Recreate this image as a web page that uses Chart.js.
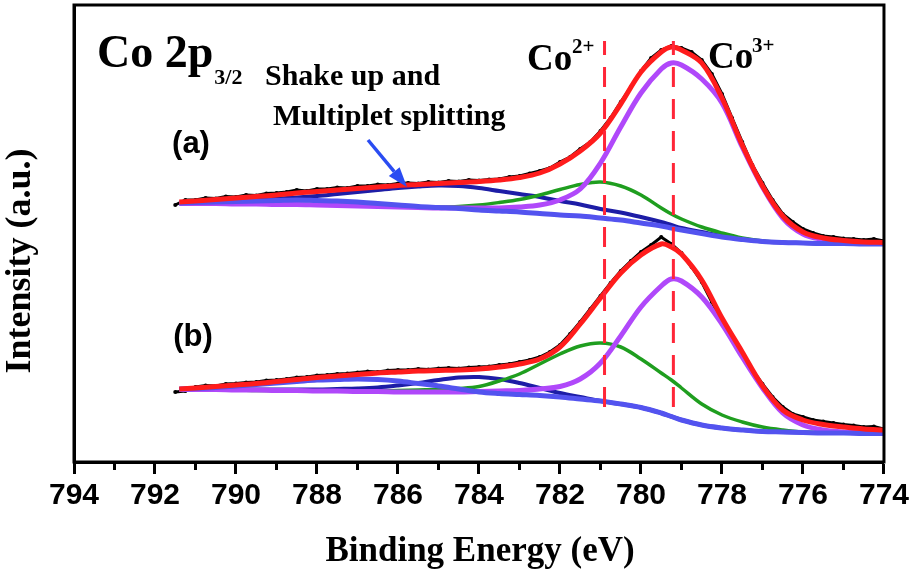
<!DOCTYPE html>
<html>
<head>
<meta charset="utf-8">
<script src="https://cdn.jsdelivr.net/npm/chart.js@4.4.1/dist/chart.umd.min.js"></script>
<style>
  html, body { margin: 0; padding: 0; background: #fff; }
  canvas { display: block; }
</style>
</head>
<body>
<canvas id="chart-area" width="913" height="577"></canvas>
<script>
// binding energy grid of the fitted curves (eV)
var energyFit = [791.4, 791, 790.5, 790, 789.5, 789, 788.5, 788, 787.5, 787, 786.5, 786,
    785.5, 785, 784.5, 784, 783.5, 783, 782.5, 782, 781.5, 781, 780.5, 780, 779.5, 779.25,
    779, 778.5, 778, 777.5, 777, 776.5, 776, 775.5, 775, 774.5, 774];

// measured spectra are sampled every 0.25 eV from 791.5 down to 774
var energyRaw = [];
for (var e = 791.5; e >= 773.99; e -= 0.25) energyRaw.push(Math.round(e * 100) / 100);

// spectrum (a)
var rawA = [257, 262, 262, 264, 263.5, 265.5, 265, 267, 266.5, 268.5,
    269, 270, 272, 271, 273, 273, 274.5, 274, 276, 276,
    277.5, 277, 278.5, 279, 278.5, 280, 279.5, 281, 280.5, 282,
    281.5, 282.5, 283, 285, 286, 288.5, 291, 294, 300, 305,
    313, 320, 331, 344, 360, 375, 391, 404, 412, 416,
    414, 410, 402, 388, 368, 344, 320, 297, 279, 262,
    248, 240, 233, 229, 226, 225, 223.5, 223, 222, 223, 221];
var envelopeA = [260, 261, 262.5, 264, 265.5, 267, 269, 270.5, 272, 273.5, 275, 276.5,
    277.5, 278.5, 279.5, 280.5, 282, 284.5, 289, 298, 311, 329, 358, 390, 410, 415,
    412, 399, 364, 317, 276, 246, 230, 224, 221.5, 220, 219.5];
var co3A = [258.5, 258.5, 258.5, 258, 258, 257.5, 257.5, 257, 256.5, 256, 255.5, 255,
    254.5, 254, 254, 254, 254, 255, 257, 262, 273, 299, 335, 369, 393, 399,
    397, 383, 359, 315, 275, 244, 228, 222.5, 220, 219, 218.5];
var co2A = [258.5, 258.5, 258.5, 258, 258, 258, 257.5, 257.5, 257, 256.5, 256, 255.5,
    255, 255, 255.5, 257, 259.5, 262.5, 267, 272.5, 277.5, 280, 276, 267, 254, 248,
    243, 235, 229, 224, 221, 219.5, 219, 218.5, 218.5, 218.5, 218.5];
var satA = [259, 260, 261, 262, 262.5, 263.5, 264.5, 266, 268, 270, 272, 274,
    275.5, 276.5, 276, 274, 271, 268, 265, 261, 257.5, 253, 249.5, 245, 240, 237,
    234, 230, 226, 223, 220.5, 219.5, 219, 218.5, 218.5, 218.5, 218.5];
var bgA = [259, 259.5, 260, 260.5, 261, 261.5, 262, 261.5, 261, 260, 258.5, 257,
    255.5, 254.5, 253.5, 252, 251, 250, 248.5, 247, 246, 244, 242, 239, 236, 234,
    232, 228.5, 225, 222.5, 220.5, 219.5, 219, 218.5, 218.5, 218, 218];

// spectrum (b)
var rawB = [70, 71, 75, 76.5, 76, 78, 78.5, 79.5, 80, 81.5,
    82, 83, 84.5, 85, 86.5, 87, 88, 88.5, 89.5, 90.5,
    90, 91.5, 92, 92, 93, 92.5, 93.5, 94, 93.5, 94.5,
    95, 95.5, 97, 98, 100, 102, 105, 110, 117, 128,
    140, 153, 166, 179, 191, 201, 210, 217, 225, 218,
    209, 195, 180, 160, 141, 124, 108, 92, 78, 65,
    55, 48, 45, 42, 40.5, 39, 37.5, 36.5, 35, 35.5, 33];
var envelopeB = [73, 74, 75.5, 77, 78.5, 80.5, 82.5, 84.5, 86, 87.5, 89, 90,
    91, 91.5, 92, 93, 95, 98, 103, 115, 138, 164, 189, 207, 218, 215,
    208, 182, 144, 110, 76, 52, 42, 37.5, 35, 33, 32];
var co3B = [72.5, 72.5, 72.5, 72, 72, 71.5, 71.5, 71, 71, 70.5, 70.5, 70,
    70, 70, 70, 70.5, 71, 71.5, 73, 75.5, 83, 99, 126, 155, 176, 183,
    181, 165, 138, 105, 74, 49, 37, 32, 30, 29, 29];
var co2B = [72.5, 72.5, 72, 72, 71.5, 71.5, 71, 71, 71, 71, 71, 71.5,
    72, 72.5, 73.5, 75.5, 81, 88, 98, 108, 116, 119, 115, 103, 89, 82,
    74, 58, 47, 40, 35, 32, 30, 29.5, 29, 29, 29];
var satB = [72.5, 72.5, 72.5, 72.5, 72.5, 72.5, 72.5, 72.5, 73, 73.5, 74.5, 76.5,
    79, 82, 84.5, 85, 83, 79, 74, 69, 65, 61, 58, 54.5, 49, 45.5,
    42, 37, 34, 32, 30.5, 30, 29.5, 29, 29, 29, 29];
var bgB = [73, 73.5, 74.5, 76, 77.5, 79, 80.5, 82, 82.5, 83, 82.5, 81,
    78.5, 76, 73, 70, 68.5, 67.5, 66.5, 65, 63, 61, 58, 54.5, 49, 45.5,
    42, 37, 34, 32, 30.5, 30, 29.5, 29, 29, 28.5, 28.5];

// peak positions marked by the dashed lines (eV) and their vertical extent
var peakCo2 = 780.9;
var peakCo3 = 779.2;
var markerSpan = [55, 421];

// x axis
var xTicksMajor = [794, 792, 790, 788, 786, 784, 782, 780, 778, 776, 774];
var xTicksMinor = [793, 791, 789, 787, 785, 783, 781, 779, 777, 775];

function pts(xs, ys) {
    return ys.map(function(v, i) { return {x: xs[i], y: v}; });
}
function curve(xs, ys, color, width, order) {
    return {
        data: pts(xs, ys),
        borderColor: color,
        borderWidth: width,
        pointRadius: 0,
        tension: 0.35,
        fill: false,
        order: order
    };
}
function raw(ys) {
    return {
        data: pts(energyRaw, ys),
        borderColor: '#000',
        backgroundColor: '#000',
        borderWidth: 3,
        pointRadius: 2,
        pointBorderWidth: 0,
        tension: 0,
        fill: false,
        order: 9
    };
}
function marker(e) {
    return {
        data: [{x: e, y: markerSpan[0]}, {x: e, y: markerSpan[1]}],
        borderColor: '#ff2638',
        borderWidth: 3,
        borderDash: [20, 12],
        pointRadius: 0,
        order: 0
    };
}

var RED = '#ff1c1c', VIOLET = '#b048fa', GREEN = '#1f9e1f', NAVY = '#1d1da6', LAVENDER = '#5353ef';

var decorations = {
    id: 'decorations',
    afterDraw: function(chart) {
        var ctx = chart.ctx, a = chart.chartArea, x = chart.scales.x;
        ctx.save();
        ctx.strokeStyle = '#000';
        ctx.lineWidth = 3;
        ctx.strokeRect(a.left, a.top, a.right - a.left, a.bottom - a.top);
        xTicksMinor.forEach(function(v) {
            var px = x.getPixelForValue(v);
            ctx.beginPath();
            ctx.moveTo(px, a.bottom);
            ctx.lineTo(px, a.bottom + 8);
            ctx.stroke();
        });

        ctx.fillStyle = '#000';
        ctx.textBaseline = 'alphabetic';
        ctx.textAlign = 'left';
        var serif = '"Liberation Serif", "Times New Roman", serif';
        var sans = '"Liberation Sans", Arial, sans-serif';

        ctx.font = 'bold 46px ' + serif;
        ctx.fillText('Co 2p', 97, 67);
        var w = ctx.measureText('Co 2p').width;
        ctx.font = 'bold 22px ' + serif;
        ctx.fillText('3/2', 97 + w + 1, 84);

        ctx.font = 'bold 30px ' + serif;
        ctx.fillText('Shake up and', 265, 85);
        ctx.fillText('Multiplet splitting', 273, 125);

        ctx.font = 'bold 37px ' + serif;
        ctx.fillText('Co', 527, 70);
        ctx.fillText('Co', 708, 68);
        ctx.font = 'bold 21px ' + serif;
        ctx.fillText('2+', 572, 53);
        ctx.fillText('3+', 752, 52);

        ctx.font = 'bold 31px ' + sans;
        ctx.textAlign = 'center';
        ctx.textBaseline = 'middle';
        ctx.fillText('(a)', 191, 144);
        ctx.fillText('(b)', 193, 337);

        ctx.font = 'bold 35px ' + serif;
        ctx.fillText('Binding Energy (eV)', 480, 552);
        ctx.save();
        ctx.translate(21, 261);
        ctx.rotate(-Math.PI / 2);
        ctx.font = 'bold 36px ' + serif;
        ctx.fillText('Intensity (a.u.)', 0, 0);
        ctx.restore();

        // arrow pointing at the satellite
        var x0 = 368, y0 = 140, x1 = 407, y1 = 187;
        var ang = Math.atan2(y1 - y0, x1 - x0), hl = 20, hw = 7;
        ctx.strokeStyle = '#2a4cf2';
        ctx.fillStyle = '#2a4cf2';
        ctx.lineWidth = 3.5;
        ctx.beginPath();
        ctx.moveTo(x0, y0);
        ctx.lineTo(x1 - hl * Math.cos(ang), y1 - hl * Math.sin(ang));
        ctx.stroke();
        ctx.beginPath();
        ctx.moveTo(x1, y1);
        ctx.lineTo(x1 - hl * Math.cos(ang) + hw * Math.sin(ang), y1 - hl * Math.sin(ang) - hw * Math.cos(ang));
        ctx.lineTo(x1 - hl * Math.cos(ang) - hw * Math.sin(ang), y1 - hl * Math.sin(ang) + hw * Math.cos(ang));
        ctx.closePath();
        ctx.fill();
        ctx.restore();
    }
};

var config = {
    type: 'line',
    data: {
        datasets: [
            raw(rawA), raw(rawB),
            curve(energyFit, satA, NAVY, 4, 7),
            curve(energyFit, co2A, GREEN, 3.5, 6),
            curve(energyFit, co3A, VIOLET, 5, 5),
            curve(energyFit, bgA, LAVENDER, 5, 4),
            curve(energyFit, envelopeA, RED, 5, 2),
            curve(energyFit, satB, NAVY, 4, 7),
            curve(energyFit, co2B, GREEN, 3.5, 6),
            curve(energyFit, co3B, VIOLET, 5, 5),
            curve(energyFit, bgB, LAVENDER, 5, 4),
            curve(energyFit, envelopeB, RED, 5, 2),
            marker(peakCo2), marker(peakCo3)
        ]
    },
    options: {
        responsive: false,
        animation: false,
        devicePixelRatio: 1,
        layout: { padding: { left: 0, right: 29, top: 5, bottom: 0 } },
        plugins: { legend: { display: false }, tooltip: { enabled: false } },
        scales: {
            x: {
                type: 'linear',
                reverse: true,
                min: 774,
                max: 794,
                afterFit: function(s) { s.height = 115; },
                afterBuildTicks: function(s) {
                    s.ticks = xTicksMajor.map(function(v) { return {value: v}; });
                },
                ticks: {
                    color: '#000',
                    padding: 4,
                    maxRotation: 0,
                    font: { family: '"Liberation Sans", Arial, sans-serif', size: 30, weight: 'bold' }
                },
                grid: {
                    display: true,
                    drawOnChartArea: false,
                    drawTicks: true,
                    tickLength: 12,
                    tickWidth: 3,
                    tickColor: '#000'
                },
                border: { display: true, color: '#000', width: 3 }
            },
            y: {
                min: 0,
                max: 457,
                afterFit: function(s) { s.width = 74; },
                ticks: { display: false },
                grid: { display: false },
                border: { display: true, color: '#000', width: 3 }
            }
        }
    },
    plugins: [decorations]
};

var ctx = document.getElementById('chart-area').getContext('2d');
var xpsChart = new Chart(ctx, config);
</script>
</body>
</html>
